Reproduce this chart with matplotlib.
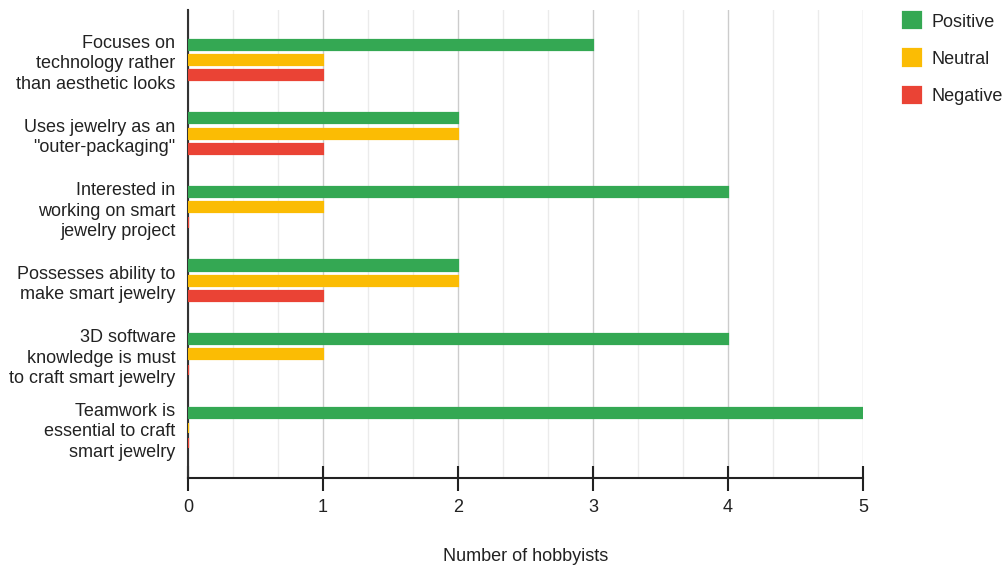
import numpy as np
import matplotlib.pyplot as plt
from matplotlib.ticker import MultipleLocator

plt.rcParams['font.family'] = ['Liberation Sans', 'DejaVu Sans']

statements = [
    "Focuses on\ntechnology rather\nthan aesthetic looks",
    "Uses jewelry as an\n\"outer-packaging\"",
    "Interested in\nworking on smart\njewelry project",
    "Possesses ability to\nmake smart jewelry",
    "3D software\nknowledge is must\nto craft smart jewelry",
    "Teamwork is\nessential to craft\nsmart jewelry",
]
positive = [3, 2, 4, 2, 4, 5]
neutral = [1, 2, 1, 2, 1, 0]
negative = [1, 1, 0, 1, 0, 0]

series = [("Positive", positive, "#34a853"),
          ("Neutral", neutral, "#fbbc04"),
          ("Negative", negative, "#ea4335")]

fs = 13
txt = "#222222"

fig = plt.figure(figsize=(10.08, 5.68), dpi=100)
ax = fig.add_axes([188 / 1008, 1 - 478 / 568, (863 - 188) / 1008, (478 - 10) / 568])

y = np.arange(len(statements))
step = 0.208
height = 0.138
for k, (name, vals, color) in enumerate(series):
    ax.barh(y + (k - 1) * step, vals, height=height, color=color,
            edgecolor=color, linewidth=1.6, label=name, zorder=3)

ax.set_xlim(0, 5)
ax.set_ylim(len(statements) - 1 + 0.68, -0.68)
ax.set_yticks(y)
ax.set_yticklabels(statements, fontsize=fs, color=txt, linespacing=1.28)
ax.tick_params(axis='y', length=0, pad=9)

ax.xaxis.set_major_locator(MultipleLocator(1))
ax.xaxis.set_minor_locator(MultipleLocator(1 / 3))
ax.grid(axis='x', which='major', color='#cccccc', linewidth=1, zorder=0)
ax.grid(axis='x', which='minor', color='#ebebeb', linewidth=1, zorder=0)
ax.tick_params(axis='x', which='major', direction='inout', length=18, width=1.5,
               color=txt, labelsize=fs, labelcolor=txt, pad=6)
ax.tick_params(axis='x', which='minor', length=0)

for side in ['top', 'right']:
    ax.spines[side].set_visible(False)
ax.spines['left'].set_color('#333333')
ax.spines['left'].set_linewidth(1.5)
ax.spines['left'].set_zorder(2)
ax.spines['bottom'].set_color(txt)
ax.spines['bottom'].set_linewidth(1.5)

ax.set_xlabel("Number of hobbyists", fontsize=fs, color=txt, labelpad=23)

fig.legend(loc='upper left', bbox_to_anchor=(887 / 1008, 1 + 4 / 568),
           frameon=False, fontsize=fs, handlelength=1.0, handleheight=1.0,
           labelspacing=1.05, handletextpad=0.55, labelcolor=txt)

fig.savefig("out.png", dpi=100)
